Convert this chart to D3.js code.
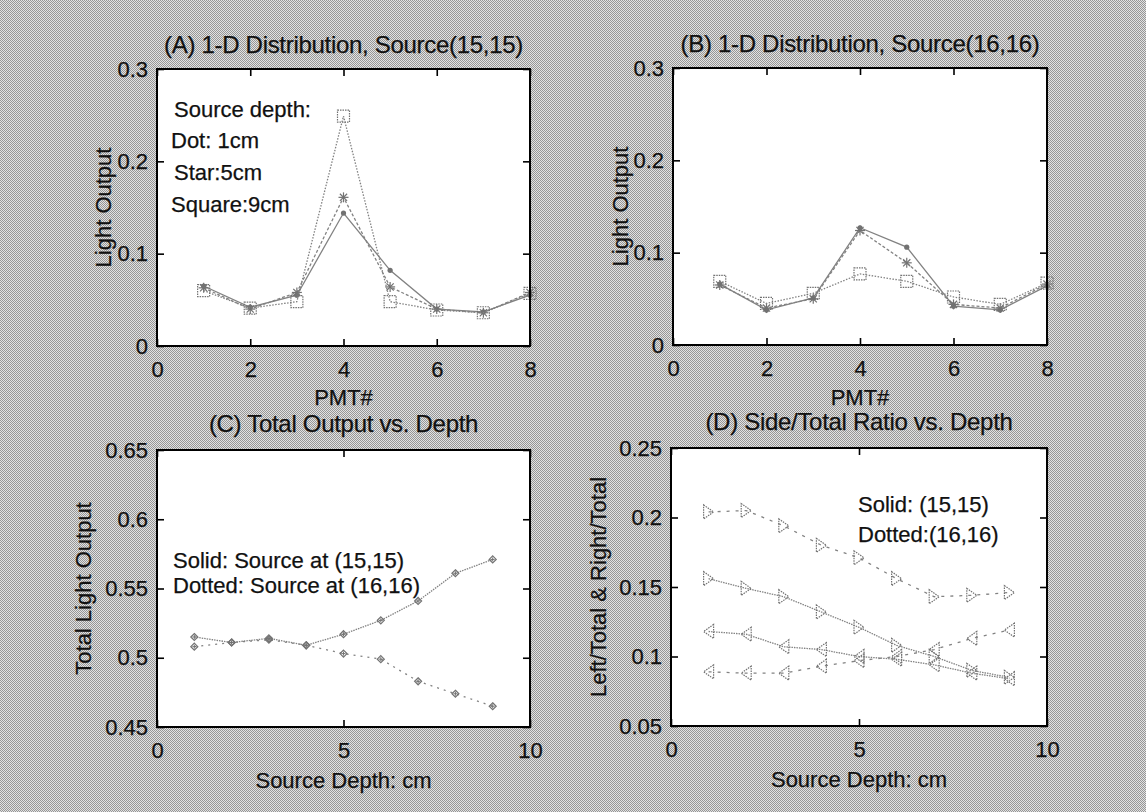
<!DOCTYPE html>
<html>
<head>
<meta charset="utf-8">
<script src="https://cdn.jsdelivr.net/npm/d3@7"></script>
<style>
  html, body { margin: 0; padding: 0; background: #bdbdbd; }
  svg { display: block; }
  text { font-family: "Liberation Sans", Arial, sans-serif; fill: #111; stroke: #111; stroke-width: 0.25; }
</style>
</head>
<body>
<svg id="fig" width="1146" height="812"></svg>
<script>
// ---- data ----
const pmt = [1, 2, 3, 4, 5, 6, 7, 8];
const depth = [1, 2, 3, 4, 5, 6, 7, 8, 9];

// (A) source at (15,15), light output per PMT
const a_dot1cm    = [0.065, 0.042, 0.055, 0.144, 0.082, 0.040, 0.037, 0.055];
const a_star5cm   = [0.063, 0.040, 0.058, 0.161, 0.064, 0.040, 0.036, 0.058];
const a_square9cm = [0.060, 0.041, 0.048, 0.249, 0.048, 0.039, 0.036, 0.057];

// (B) source at (16,16)
const b_dot1cm    = [0.066, 0.038, 0.051, 0.127, 0.106, 0.042, 0.038, 0.064];
const b_star5cm   = [0.065, 0.040, 0.050, 0.124, 0.089, 0.044, 0.040, 0.066];
const b_square9cm = [0.069, 0.045, 0.056, 0.077, 0.069, 0.052, 0.044, 0.067];

// (C) total light output vs depth
const c_total_15 = [0.515, 0.511, 0.514, 0.509, 0.517, 0.527, 0.541, 0.561, 0.571];
const c_total_16 = [0.508, 0.511, 0.513, 0.509, 0.503, 0.499, 0.483, 0.474, 0.465];

// (D) side / total ratios vs depth
const d_right_15 = [0.156, 0.149, 0.143, 0.132, 0.121, 0.108, 0.100, 0.090, 0.085];
const d_left_15  = [0.118, 0.116, 0.107, 0.105, 0.100, 0.098, 0.094, 0.088, 0.084];
const d_right_16 = [0.204, 0.205, 0.194, 0.180, 0.171, 0.156, 0.143, 0.144, 0.146];
const d_left_16  = [0.089, 0.088, 0.088, 0.093, 0.097, 0.100, 0.105, 0.113, 0.119];

// tick values
const ticksPmtX   = [0, 2, 4, 6, 8];
const ticksLightY = [0, 0.1, 0.2, 0.3];
const ticksDepthX = [0, 5, 10];
const ticksTotalY = [0.45, 0.5, 0.55, 0.6, 0.65];
const ticksRatioY = [0.05, 0.1, 0.15, 0.2, 0.25];

// ---- drawing ----
const svg = d3.select("#fig");
const defs = svg.append("defs");
const dither = defs.append("pattern").attr("id", "dither")
  .attr("width", 2).attr("height", 2).attr("patternUnits", "userSpaceOnUse");
dither.append("rect").attr("width", 2).attr("height", 2).attr("fill", "#e2e2e2");
dither.append("rect").attr("width", 1).attr("height", 1).attr("fill", "#969696");
dither.append("rect").attr("x", 1).attr("y", 1).attr("width", 1).attr("height", 1).attr("fill", "#969696");
svg.append("rect").attr("width", 1146).attr("height", 812).attr("fill", "url(#dither)");

const LINE = "#828282";
const FS = 22;

function panel(cfg) {
  const g = svg.append("g");
  const x = d3.scaleLinear().domain(cfg.xDomain).range([cfg.left, cfg.right]);
  const y = d3.scaleLinear().domain(cfg.yDomain).range([cfg.bottom, cfg.top]);
  g.append("rect")
    .attr("x", cfg.left).attr("y", cfg.top)
    .attr("width", cfg.right - cfg.left).attr("height", cfg.bottom - cfg.top)
    .attr("fill", "#fff");

  const styleAxis = sel => {
    sel.select(".domain").remove();
    sel.selectAll(".tick line").attr("stroke", "#000").attr("stroke-width", 1.6);
    sel.selectAll(".tick text").attr("font-size", FS).attr("fill", "#111")
      .style("font-family", '"Liberation Sans", Arial, sans-serif');
  };
  const fmt = d3.format("~g");
  g.append("g").attr("transform", `translate(0,${cfg.bottom})`)
    .call(d3.axisBottom(x).tickValues(cfg.xTicks).tickFormat(fmt).tickSize(-7).tickPadding(15))
    .call(styleAxis);
  g.append("g").attr("transform", `translate(0,${cfg.top})`)
    .call(d3.axisTop(x).tickValues(cfg.xTicks).tickFormat("").tickSize(-7))
    .call(styleAxis);
  g.append("g").attr("transform", `translate(${cfg.left},0)`)
    .call(d3.axisLeft(y).tickValues(cfg.yTicks).tickFormat(fmt).tickSize(-7).tickPadding(9))
    .call(styleAxis);
  g.append("g").attr("transform", `translate(${cfg.right},0)`)
    .call(d3.axisRight(y).tickValues(cfg.yTicks).tickFormat("").tickSize(-7))
    .call(styleAxis);

  const cx = (cfg.left + cfg.right) / 2;
  const cy = (cfg.top + cfg.bottom) / 2;
  g.append("text").attr("x", cx).attr("y", cfg.top - cfg.titleGap)
    .attr("text-anchor", "middle").attr("font-size", 24)
    .attr("letter-spacing", -0.3).text(cfg.title);
  g.append("text").attr("x", cx).attr("y", cfg.bottom + cfg.xLabelGap)
    .attr("text-anchor", "middle").attr("font-size", FS).text(cfg.xLabel);
  g.append("text").attr("transform", `translate(${cfg.yLabelX},${cy}) rotate(-90)`)
    .attr("text-anchor", "middle").attr("font-size", FS).text(cfg.yLabel);

  const series = g.append("g");
  const line = d3.line().x(d => x(d[0])).y(d => y(d[1]));
  cfg.series.forEach(s => {
    const pts = s.xs.map((v, i) => [v, s.ys[i]]);
    series.append("path").attr("d", line(pts))
      .attr("fill", "none").attr("stroke", LINE).attr("stroke-width", 1.3)
      .attr("stroke-dasharray", s.dash);
    pts.forEach(p => drawMarker(series, s.marker, x(p[0]), y(p[1])));
  });

  g.append("rect")
    .attr("x", cfg.left).attr("y", cfg.top)
    .attr("width", cfg.right - cfg.left).attr("height", cfg.bottom - cfg.top)
    .attr("fill", "none").attr("stroke", "#000").attr("stroke-width", 2);

  (cfg.notes || []).forEach(n => {
    g.append("text").attr("x", n.x).attr("y", n.y).attr("font-size", 22).text(n.text);
  });
}

function drawMarker(g, type, px, py) {
  const m = g.append("g").attr("transform", `translate(${px},${py})`)
    .attr("fill", "none").attr("stroke", "#727272").attr("stroke-width", 1.2);
  if (type === "dot") {
    m.append("circle").attr("r", 2.6).attr("fill", "#727272").attr("stroke", "none");
  } else if (type === "star") {
    [[-5, 0, 5, 0], [0, -5, 0, 5], [-3.6, -3.6, 3.6, 3.6], [-3.6, 3.6, 3.6, -3.6]].forEach(l =>
      m.append("line").attr("x1", l[0]).attr("y1", l[1]).attr("x2", l[2]).attr("y2", l[3]));
  } else if (type === "square") {
    m.append("rect").attr("x", -6).attr("y", -6).attr("width", 12).attr("height", 12)
      .attr("stroke-dasharray", "1.5,1");
  } else if (type === "diamond") {
    m.append("path").attr("d", "M0,-3.5L3.5,0L0,3.5L-3.5,0Z");
    m.append("path").attr("d", "M-2,0H2M0,-2V2").attr("stroke-width", 1);
  } else if (type === "tri-right") {
    m.append("path").attr("d", "M-5,-7L5,0L-5,7Z").attr("stroke-dasharray", "1.5,1");
  } else if (type === "tri-left") {
    m.append("path").attr("d", "M5,-7L-5,0L5,7Z").attr("stroke-dasharray", "1.5,1");
  }
}

panel({
  left: 157, right: 530, top: 69, bottom: 346, titleGap: 16, xLabelGap: 59,
  xDomain: [0, 8], yDomain: [0, 0.3], xTicks: ticksPmtX, yTicks: ticksLightY,
  title: "(A) 1-D Distribution, Source(15,15)", xLabel: "PMT#", yLabel: "Light Output", yLabelX: 111,
  series: [
    { xs: pmt, ys: a_dot1cm, marker: "dot", dash: null },
    { xs: pmt, ys: a_star5cm, marker: "star", dash: "3,2" },
    { xs: pmt, ys: a_square9cm, marker: "square", dash: "1.5,1.5" }
  ],
  notes: [
    { x: 174, y: 117, text: "Source depth:" },
    { x: 171, y: 148, text: "Dot: 1cm" },
    { x: 174, y: 180, text: "Star:5cm" },
    { x: 171, y: 212, text: "Square:9cm" }
  ]
});

panel({
  left: 673, right: 1047, top: 68, bottom: 345, titleGap: 16, xLabelGap: 60,
  xDomain: [0, 8], yDomain: [0, 0.3], xTicks: ticksPmtX, yTicks: ticksLightY,
  title: "(B) 1-D Distribution, Source(16,16)", xLabel: "PMT#", yLabel: "Light Output", yLabelX: 628,
  series: [
    { xs: pmt, ys: b_dot1cm, marker: "dot", dash: null },
    { xs: pmt, ys: b_star5cm, marker: "star", dash: "3,2" },
    { xs: pmt, ys: b_square9cm, marker: "square", dash: "1.5,1.5" }
  ]
});

panel({
  left: 157, right: 530, top: 450, bottom: 727, titleGap: 18, xLabelGap: 61,
  xDomain: [0, 10], yDomain: [0.45, 0.65], xTicks: ticksDepthX, yTicks: ticksTotalY,
  title: "(C) Total Output vs. Depth", xLabel: "Source Depth: cm", yLabel: "Total Light Output", yLabelX: 91,
  series: [
    { xs: depth, ys: c_total_15, marker: "diamond", dash: "1.5,1" },
    { xs: depth, ys: c_total_16, marker: "diamond", dash: "2,5" }
  ],
  notes: [
    { x: 173, y: 568, text: "Solid: Source at (15,15)" },
    { x: 173, y: 593, text: "Dotted: Source at (16,16)" }
  ]
});

panel({
  left: 671, right: 1047, top: 448, bottom: 726, titleGap: 18, xLabelGap: 61,
  xDomain: [0, 10], yDomain: [0.05, 0.25], xTicks: ticksDepthX, yTicks: ticksRatioY,
  title: "(D) Side/Total Ratio vs. Depth", xLabel: "Source Depth: cm", yLabel: "Left/Total & Right/Total", yLabelX: 606,
  series: [
    { xs: depth, ys: d_right_15, marker: "tri-right", dash: "1.5,1" },
    { xs: depth, ys: d_left_15, marker: "tri-left", dash: "1.5,1" },
    { xs: depth, ys: d_right_16, marker: "tri-right", dash: "3,6" },
    { xs: depth, ys: d_left_16, marker: "tri-left", dash: "3,6" }
  ],
  notes: [
    { x: 858, y: 512, text: "Solid: (15,15)" },
    { x: 858, y: 542, text: "Dotted:(16,16)" }
  ]
});
</script>
</body>
</html>
